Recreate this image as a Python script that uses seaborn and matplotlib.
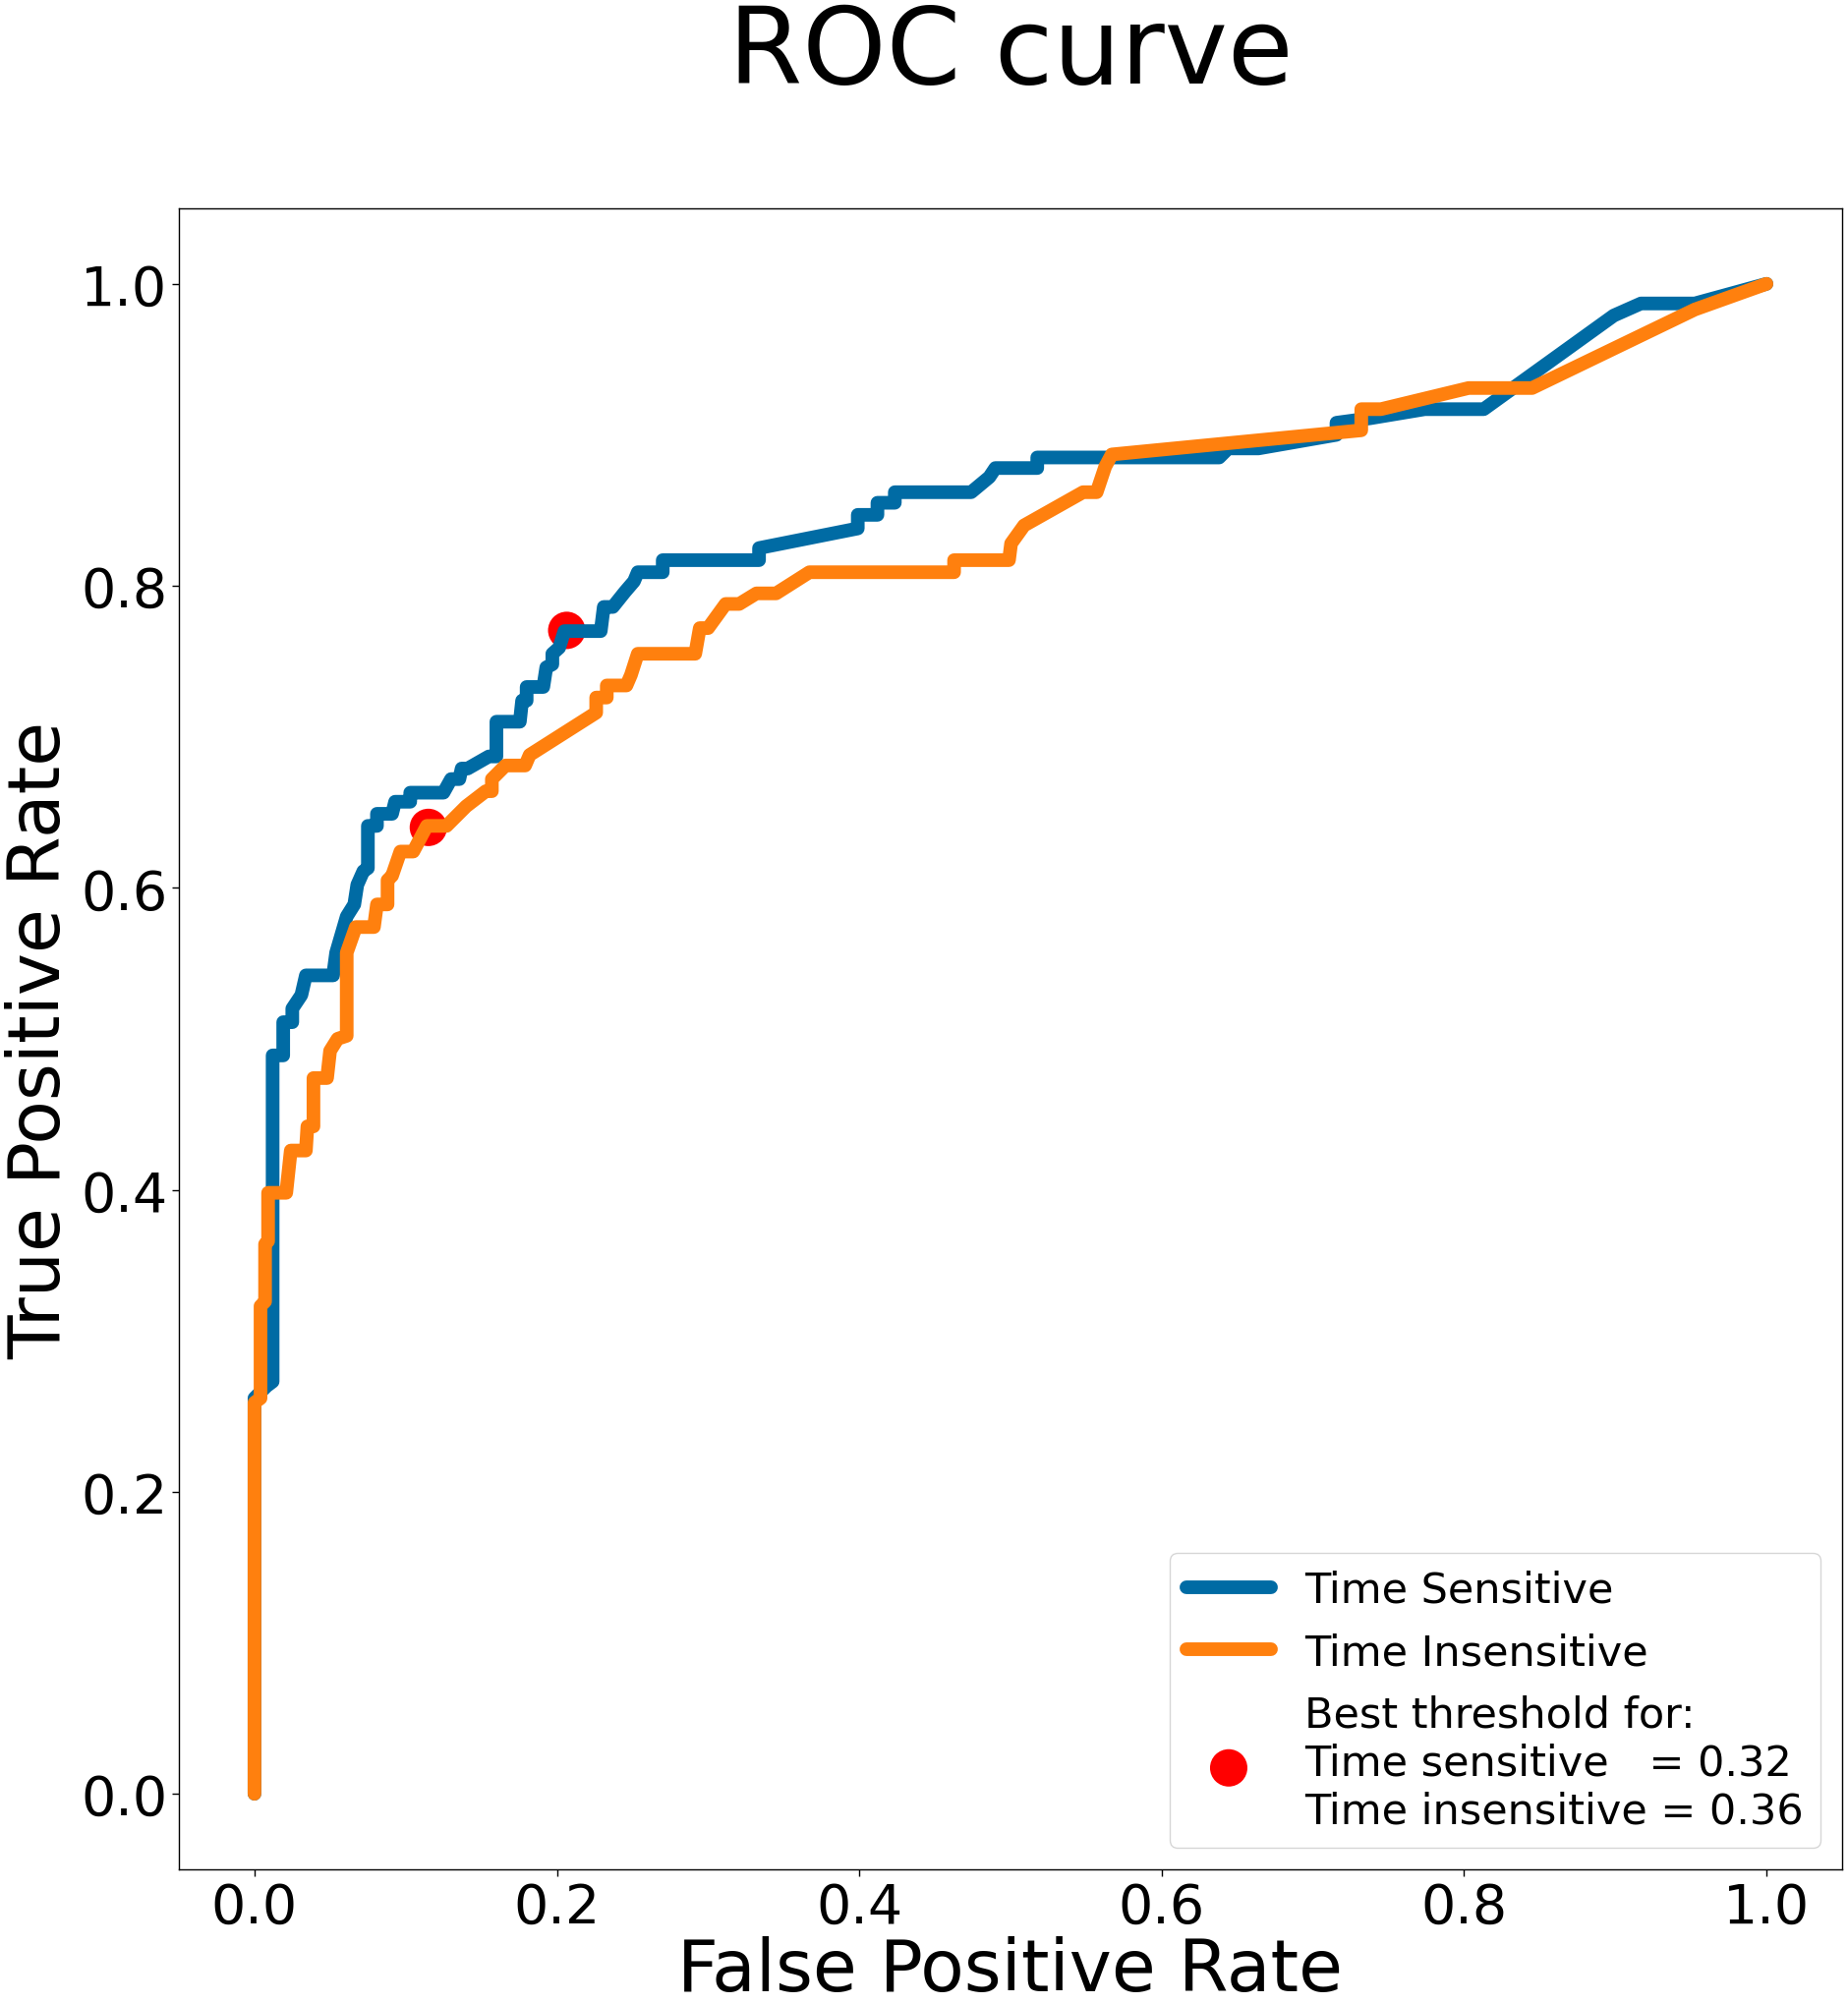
import matplotlib
matplotlib.use("Agg")
import matplotlib.pyplot as plt
import seaborn as sns
import pandas as pd

# ---- data ----
ts_fpr = [0.0, 0.0, 0.008, 0.012, 0.012, 0.019, 0.019, 0.025, 0.025, 0.031, 0.034, 0.052,
          0.054, 0.061, 0.066, 0.068, 0.072, 0.075, 0.075, 0.081, 0.081, 0.091, 0.093,
          0.103, 0.103, 0.125, 0.130, 0.1355, 0.137, 0.141, 0.155, 0.160, 0.160, 0.1755,
          0.177, 0.180, 0.180, 0.191, 0.193, 0.197, 0.197, 0.2015, 0.205, 0.229, 0.231,
          0.237, 0.245, 0.251, 0.2535, 0.270, 0.270, 0.3337, 0.3337, 0.399, 0.399, 0.412,
          0.412, 0.4235, 0.4235, 0.474, 0.486, 0.490, 0.5177, 0.5177, 0.638, 0.644, 0.664,
          0.7156, 0.7156, 0.738, 0.774, 0.813, 0.899, 0.917, 0.9526, 1.0]
ts_tpr = [0.0, 0.262, 0.27, 0.273, 0.489, 0.489, 0.511, 0.511, 0.520, 0.529, 0.542, 0.542,
          0.557, 0.581, 0.589, 0.602, 0.611, 0.613, 0.641, 0.641, 0.649, 0.649, 0.657,
          0.657, 0.663, 0.663, 0.672, 0.672, 0.679, 0.679, 0.687, 0.687, 0.710, 0.710,
          0.724, 0.724, 0.733, 0.733, 0.746, 0.748, 0.755, 0.759, 0.770, 0.770, 0.786,
          0.786, 0.796, 0.803, 0.809, 0.809, 0.817, 0.817, 0.825, 0.838, 0.847, 0.847,
          0.855, 0.855, 0.862, 0.862, 0.872, 0.878, 0.878, 0.885, 0.885, 0.891, 0.891,
          0.900, 0.908, 0.911, 0.917, 0.917, 0.979, 0.987, 0.987, 1.0]

ti_fpr = [0.0, 0.0, 0.004, 0.004, 0.007, 0.007, 0.009, 0.009, 0.021, 0.024, 0.034, 0.035,
          0.039, 0.039, 0.048, 0.050, 0.055, 0.061, 0.061, 0.067, 0.079, 0.081, 0.088,
          0.088, 0.091, 0.0965, 0.105, 0.114, 0.127, 0.140, 0.153, 0.157, 0.157, 0.166,
          0.179, 0.182, 0.226, 0.226, 0.233, 0.233, 0.246, 0.249, 0.2535, 0.2915, 0.2945,
          0.300, 0.3116, 0.3206, 0.332, 0.345, 0.367, 0.4627, 0.4627, 0.499, 0.5004, 0.509,
          0.548, 0.557, 0.5627, 0.567, 0.732, 0.732, 0.745, 0.803, 0.845, 0.9526, 1.0]
ti_tpr = [0.0, 0.259, 0.262, 0.323, 0.326, 0.364, 0.366, 0.398, 0.398, 0.426, 0.426, 0.442,
          0.442, 0.474, 0.474, 0.492, 0.500, 0.502, 0.557, 0.574, 0.574, 0.589, 0.589,
          0.605, 0.608, 0.624, 0.624, 0.641, 0.641, 0.654, 0.664, 0.664, 0.672, 0.681,
          0.681, 0.688, 0.716, 0.726, 0.726, 0.734, 0.734, 0.741, 0.755, 0.755, 0.772,
          0.772, 0.788, 0.788, 0.795, 0.795, 0.809, 0.809, 0.817, 0.817, 0.828, 0.840,
          0.862, 0.862, 0.879, 0.887, 0.903, 0.917, 0.917, 0.931, 0.931, 0.983, 1.0]

best_fpr = [0.2065, 0.115]
best_tpr = [0.7705, 0.640]

series_labels = ["Time Sensitive", "Time Insensitive"]
best_label = "Best threshold for:\nTime sensitive   = 0.32\nTime insensitive = 0.36"

# ---- style ----
sns.set_style("ticks")
plt.rcParams["font.family"] = ["DejaVu Sans"]
plt.rcParams["axes.edgecolor"] = "black"
plt.rcParams["xtick.color"] = "black"
plt.rcParams["ytick.color"] = "black"
plt.rcParams["text.color"] = "black"
plt.rcParams["axes.labelcolor"] = "black"

BLUE = "#006BA4"
ORANGE = "#FF800E"

fig = plt.figure(figsize=(18.8, 20.4), dpi=100)
ax = fig.add_axes([0.0968, 0.0672, 0.9, 0.8284])

df_ts = pd.DataFrame({"fpr": ts_fpr, "tpr": ts_tpr})
df_ti = pd.DataFrame({"fpr": ti_fpr, "tpr": ti_tpr})
df_best = pd.DataFrame({"fpr": best_fpr, "tpr": best_tpr})

sns.scatterplot(data=df_best, x="fpr", y="tpr", ax=ax, color="red", s=750,
                edgecolor="none", linewidth=0, label=best_label, zorder=1)
sns.lineplot(data=df_ts, x="fpr", y="tpr", ax=ax, sort=False, estimator=None,
             color=BLUE, linewidth=10, label=series_labels[0], zorder=2)
sns.lineplot(data=df_ti, x="fpr", y="tpr", ax=ax, sort=False, estimator=None,
             color=ORANGE, linewidth=10, label=series_labels[1], zorder=3)

ax.set_xlim(-0.05, 1.05)
ax.set_ylim(-0.05, 1.05)
ax.set_xticks([0.0, 0.2, 0.4, 0.6, 0.8, 1.0])
ax.set_yticks([0.0, 0.2, 0.4, 0.6, 0.8, 1.0])
ax.tick_params(labelsize=40, length=5, width=1, labelcolor="black")
for s in ax.spines.values():
    s.set_linewidth(1.0)
    s.set_visible(True)

ax.set_xlabel("False Positive Rate", fontsize=52.5, labelpad=1, color="black")
ax.set_ylabel("True Positive Rate", fontsize=52.5, labelpad=4, color="black")
ax.set_title("ROC curve", fontsize=78, pad=92, color="black")

handles, labels = ax.get_legend_handles_labels()
order = [labels.index(series_labels[0]), labels.index(series_labels[1]), labels.index(best_label)]
leg = ax.legend([handles[i] for i in order], [labels[i] for i in order],
                loc="lower right", fontsize=31, handlelength=2.0, handletextpad=0.8,
                borderpad=0.4, labelspacing=0.5, frameon=True)
for t in leg.get_texts():
    t.set_color("black")

fig.savefig("out.png", dpi=100)
